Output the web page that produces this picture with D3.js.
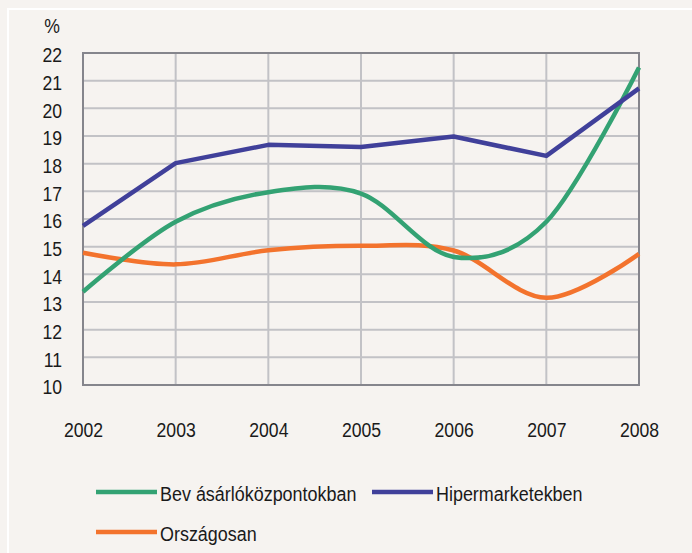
<!DOCTYPE html>
<html>
<head>
<meta charset="utf-8">
<script src="https://cdn.jsdelivr.net/npm/d3@7"></script>
<style>
  html, body { margin: 0; padding: 0; background: #f6f3f0; }
  svg { display: block; }
  text { font-family: "Liberation Sans", Arial, sans-serif; fill: #1a1a1a; transform-box: fill-box; }
</style>
</head>
<body>
<script>
const years = [2002, 2003, 2004, 2005, 2006, 2007, 2008];
const bevasarlo = [13.37, 15.9, 16.97, 16.92, 14.63, 15.9, 21.48];
const hipermarket = [15.75, 18.02, 18.68, 18.6, 18.98, 18.28, 20.72];
const orszagosan = [14.78, 14.36, 14.87, 15.03, 14.86, 13.15, 14.74];
const yTicks = [10, 11, 12, 13, 14, 15, 16, 17, 18, 19, 20, 21, 22];
const seriesNames = ["Bev ásárlóközpontokban", "Hipermarketekben", "Országosan"];
const colors = ["#33a273", "#40409a", "#f3732d"];

const W = 692, H = 553;
const svg = d3.select("body").append("svg").attr("width", W).attr("height", H);

svg.append("rect").attr("width", W).attr("height", H).attr("fill", "#f6f3f0");
// white frame
svg.append("rect").attr("x", 8).attr("y", 9).attr("width", W + 20).attr("height", H + 20)
  .attr("fill", "none").attr("stroke", "#ffffff").attr("stroke-width", 2);

const x = d3.scaleLinear().domain([2002, 2008]).range([83, 639]);
const y = d3.scaleLinear().domain([10, 22]).range([385, 53]);

// grid
const grid = svg.append("g");
grid.selectAll("line.v").data(years.slice(1, -1)).join("line")
  .attr("x1", d => x(d)).attr("x2", d => x(d)).attr("y1", y(22)).attr("y2", y(10))
  .attr("stroke", "#c2c2c6").attr("stroke-width", 2);
grid.selectAll("line.h").data(yTicks.slice(1, -1)).join("line")
  .attr("x1", x(2002)).attr("x2", x(2008)).attr("y1", d => y(d)).attr("y2", d => y(d))
  .attr("stroke", "#c2c2c6").attr("stroke-width", 2);

// plot border
svg.append("rect").attr("x", x(2002)).attr("y", y(22)).attr("width", x(2008) - x(2002)).attr("height", y(10) - y(22))
  .attr("fill", "none").attr("stroke", "#85858c").attr("stroke-width", 2);

function narrow(sel, origin, k) {
  sel.style("transform-origin", origin).style("transform", `scaleX(${k})`);
}

// axes labels via d3 axes
const yAxis = d3.axisLeft(y).tickValues(yTicks).tickSize(0).tickPadding(0).tickFormat(d3.format("d"));
const gy = svg.append("g").attr("transform", `translate(62,2)`).call(yAxis);
gy.select(".domain").remove();
gy.attr("font-family", null).attr("font-size", null);
gy.selectAll("text").attr("font-size", 21).call(narrow, "right center", 0.84);

const xAxis = d3.axisBottom(x).tickValues(years).tickSize(0).tickPadding(0).tickFormat(d3.format("d"));
const gx = svg.append("g").attr("transform", `translate(0,422)`).call(xAxis);
gx.select(".domain").remove();
gx.attr("font-family", null).attr("font-size", null);
gx.selectAll("text").attr("font-size", 21).call(narrow, "center", 0.84);

svg.selectAll("g text").attr("fill", "#1a1a1a");

svg.append("text").attr("x", 52).attr("y", 33).attr("text-anchor", "middle").attr("font-size", 21).text("%")
  .call(narrow, "center", 0.84);

// lines
const smooth = d3.line().x((d, i) => x(years[i])).y(d => y(d)).curve(d3.curveCardinal.tension(0));
const straight = d3.line().x((d, i) => x(years[i])).y(d => y(d));

const plotG = svg.append("g");
plotG.append("path").datum(orszagosan).attr("d", smooth).attr("fill", "none")
  .attr("stroke", colors[2]).attr("stroke-width", 4.5).attr("stroke-linejoin", "round");
plotG.append("path").datum(bevasarlo).attr("d", smooth).attr("fill", "none")
  .attr("stroke", colors[0]).attr("stroke-width", 4.5).attr("stroke-linejoin", "round");
plotG.append("path").datum(hipermarket).attr("d", straight).attr("fill", "none")
  .attr("stroke", colors[1]).attr("stroke-width", 4.5).attr("stroke-linejoin", "round");

// legend
const legendItems = [
  { name: seriesNames[0], color: colors[0], lx: 96, ly: 492 },
  { name: seriesNames[1], color: colors[1], lx: 372, ly: 492 },
  { name: seriesNames[2], color: colors[2], lx: 96, ly: 532 }
];
const lg = svg.append("g");
legendItems.forEach(it => {
  lg.append("line").attr("x1", it.lx).attr("x2", it.lx + 61).attr("y1", it.ly).attr("y2", it.ly)
    .attr("stroke", it.color).attr("stroke-width", 4.5);
  lg.append("text").attr("x", it.lx + 64).attr("y", it.ly + 9.5).attr("font-size", 21).text(it.name)
    .call(narrow, "left center", 0.855);
});
</script>
</body>
</html>
